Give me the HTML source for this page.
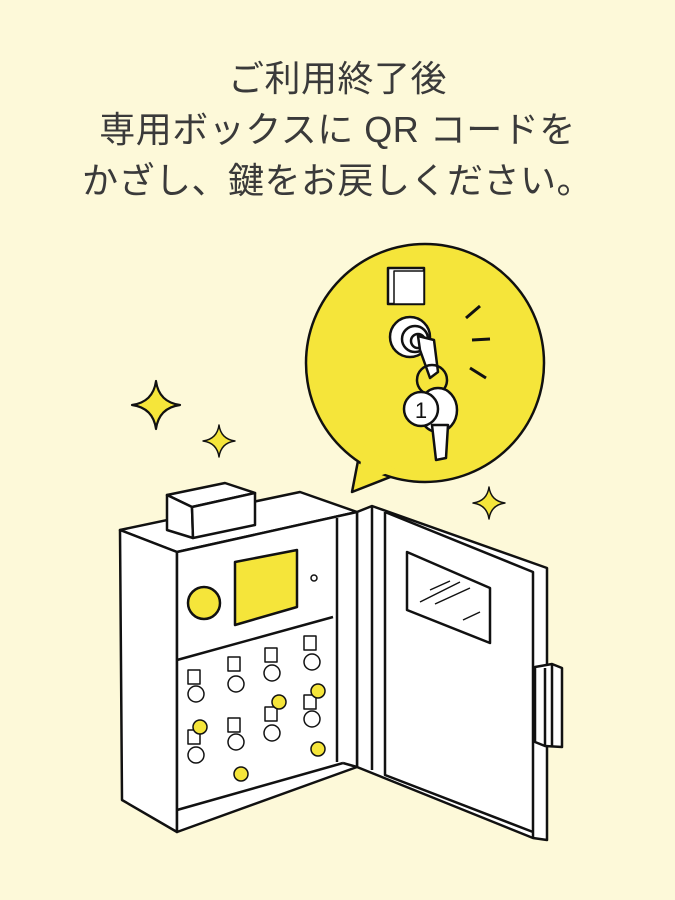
<!DOCTYPE html>
<html><head><meta charset="utf-8"><style>
html,body{margin:0;padding:0;background:#fdf9d9;}
.t{position:absolute;left:0;width:675px;text-align:center;font-family:"Liberation Sans","Noto Sans CJK JP",sans-serif;font-size:36px;color:#3a3a3a;letter-spacing:0.5px;line-height:51px;top:53px;white-space:nowrap;}
</style></head><body>
<div style="position:relative;width:675px;height:900px;overflow:hidden;background:#fdf9d9">
<div class="t">ご利用終了後<br>専用ボックスに QR コードを<br>かざし、鍵をお戻しください。</div>
<svg width="675" height="900" style="position:absolute;left:0;top:0" stroke="#111" stroke-width="2.5" stroke-linejoin="round" fill="none">
<defs>
<path id="sp" d="M0,-1 Q0.12,-0.12 1,0 Q0.12,0.12 0,1 Q-0.12,0.12 -1,0 Q-0.12,-0.12 0,-1Z"/>
</defs>
<g fill="#f5e53a" stroke="#111" stroke-width="0.09">
<use href="#sp" transform="translate(156,405) scale(24)"/>
<use href="#sp" transform="translate(219,441) scale(16)"/>
<use href="#sp" transform="translate(489,503) scale(16)"/>
<use href="#sp" transform="translate(455,682) scale(24)"/>
</g>
<path d="M362,440 L352,492 L398,474Z" fill="#f5e53a"/>
<circle cx="425" cy="363" r="119" fill="#f5e53a"/>
<path d="M364,444 L357,484 L396,470" stroke="none" fill="#f5e53a"/>
<rect x="388" y="268" width="36" height="36" fill="#fff"/>
<rect x="394" y="271" width="30" height="33" fill="#fff" stroke-width="1.5"/>
<circle cx="410" cy="337" r="20" fill="#fff"/>
<circle cx="415" cy="339" r="13" fill="#fff"/>
<circle cx="418" cy="341" r="7" fill="#fff"/>
<path d="M418,336 L434,340 L438,372 L430,378 L420,350Z" fill="#fff"/>
<circle cx="432" cy="380" r="15"/>
<ellipse cx="438" cy="410" rx="19" ry="22" fill="#fff"/>
<path d="M432,425 L448,425 L446,458 L436,460Z" fill="#fff"/>
<circle cx="421" cy="409" r="17" fill="#fff"/>
<text x="421" y="418" font-family="Liberation Sans" font-size="22" fill="#111" stroke="none" text-anchor="middle">1</text>
<path d="M466,318 L480,306 M472,340 L490,339 M470,368 L486,378" stroke-width="3"/>
<path d="M357,512 L372,506 L547,568 L547,840 L533,838 L357,767Z" fill="#fff"/>
<path d="M372,506 L372,770 M385,512 L385,775 L533,832 M385,512 L533,572 L533,838"/>
<path d="M407,552 L490,588 L490,643 L407,610Z" fill="#fff"/>
<path d="M430,590 L450,581 M420,602 L460,582 M435,604 L470,588 M463,620 L480,612" stroke-width="1.5"/>
<path d="M535,667 L552,664 L562,668 L562,747 L545,746 L535,742Z" fill="#fff"/>
<path d="M545,668 L545,746 M552,664 L552,746"/>
<path d="M120,530 L300,492 L357,512 L177,552Z" fill="#fff"/>
<path d="M120,530 L177,552 L177,832 L122,800Z" fill="#fff"/>
<path d="M177,552 L357,512 L357,767 L177,832Z" fill="#fff"/>
<path d="M337,518 L337,762 M177,660 L333,617 M177,810 L343,763 M343,763 L357,767"/>
<path d="M167,495 L225,483 L255,493 L192,507Z" fill="#fff"/>
<path d="M167,495 L192,507 L193,538 L167,530Z" fill="#fff"/>
<path d="M192,507 L255,493 L255,525 L193,538Z" fill="#fff"/>
<circle cx="204" cy="603" r="16" fill="#f5e53a"/>
<path d="M235,562 L297,550 L297,607 L235,625Z" fill="#f5e53a"/>
<circle cx="314" cy="578" r="3" stroke-width="1.5"/>
<g stroke-width="1.5" fill="#fff">
<rect x="188" y="670" width="12" height="14"/><circle cx="196" cy="694" r="8"/>
<rect x="188" y="730" width="12" height="14"/><circle cx="196" cy="755" r="8"/>
<rect x="228" y="657" width="12" height="14"/><circle cx="236" cy="684" r="8"/>
<rect x="228" y="718" width="12" height="14"/><circle cx="236" cy="742" r="8"/>
<rect x="265" y="648" width="12" height="14"/><circle cx="272" cy="673" r="8"/>
<rect x="265" y="707" width="12" height="14"/><circle cx="272" cy="733" r="8"/>
<rect x="304" y="636" width="12" height="14"/><circle cx="312" cy="662" r="8"/>
<rect x="304" y="695" width="12" height="14"/><circle cx="312" cy="719" r="8"/>
</g>
<g stroke-width="1.5" fill="#f5e53a">
<circle cx="200" cy="727" r="7"/><circle cx="241" cy="774" r="7"/>
<circle cx="279" cy="702" r="7"/><circle cx="318" cy="691" r="7"/>
<circle cx="318" cy="749" r="7"/>
</g>
</svg>
</div>
</body></html>
